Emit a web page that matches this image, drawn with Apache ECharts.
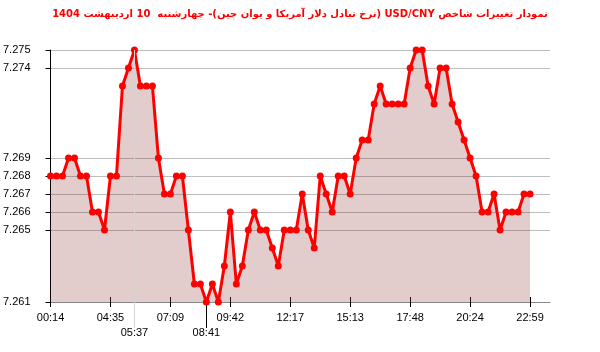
<!DOCTYPE html>
<html>
<head>
<meta charset="utf-8">
<script src="https://cdn.jsdelivr.net/npm/echarts@6/dist/echarts.min.js"></script>
<style>html,body{margin:0;padding:0;background:#fff}#c{width:600px;height:352px}</style>
</head>
<body>
<div id="c" dir="rtl"></div>
<script>
const titleText = 'نمودار تغییرات شاخص USD/CNY (نرخ تبادل دلار آمریکا و یوان چین)- چهارشنبه  10 اردیبهشت 1404';
const values = [
  7.268,7.268,7.268,7.269,7.269,7.268,7.268,7.266,7.266,7.265,
  7.268,7.268,7.273,7.274,7.275,7.273,7.273,7.273,7.269,7.267,
  7.267,7.268,7.268,7.265,7.262,7.262,7.261,7.262,7.261,7.263,
  7.266,7.262,7.263,7.265,7.266,7.265,7.265,7.264,7.263,7.265,
  7.265,7.265,7.267,7.265,7.264,7.268,7.267,7.266,7.268,7.268,
  7.267,7.269,7.270,7.270,7.272,7.273,7.272,7.272,7.272,7.272,
  7.274,7.275,7.275,7.273,7.272,7.274,7.274,7.272,7.271,7.270,
  7.269,7.268,7.266,7.266,7.267,7.265,7.266,7.266,7.266,7.267,
  7.267
];
const xTickLabels = ['00:14','04:35','07:09','09:42','12:17','15:13','17:48','20:24','22:59'];
const xTickPositions = [0,10,20,30,40,50,60,70,80];
const maxLabel = '05:37', maxIndex = 14;
const minLabel = '08:41', minIndex = 26;
const yTickLabels = [7.261,7.265,7.266,7.267,7.268,7.269,7.274,7.275];
const yMin = 7.261, yMax = 7.275, yStep = 0.001;
const xMax = 83.333;

const seriesData = values.map((v,i)=>[i,v]);
const font = 'Liberation Sans, Arial, sans-serif';

const baseX = {
  type:'value', min:0, max:xMax, position:'bottom',
  splitLine:{show:false}, axisLine:{show:false},
  axisTick:{show:false}, axisLabel:{show:false}
};
const chart = echarts.init(document.getElementById('c'), null, {renderer:'canvas'});
chart.setOption({
  animation:false,
  backgroundColor:'#fff',
  title:{
    text:titleText, left:'center', top:4,
    textStyle:{color:'#ff0000', fontSize:10, fontWeight:'bold', fontFamily:'DejaVu Sans, sans-serif'}
  },
  grid:{left:50, right:50, top:50, bottom:50, containLabel:false},
  xAxis:[
    Object.assign({}, baseX, {
      axisLine:{show:true, lineStyle:{color:'#888', width:1}},
      axisTick:{show:true, customValues:xTickPositions, length:5, lineStyle:{color:'#000'}},
      axisLabel:{show:true, customValues:xTickPositions, margin:10, color:'#000', fontSize:11, fontFamily:font,
        formatter:(v)=>{const k=xTickPositions.indexOf(Math.round(v)); return k>=0?xTickLabels[k]:'';}}
    }),
    Object.assign({}, baseX, {
      axisTick:{show:true, inside:true, customValues:xTickPositions, length:5, lineStyle:{color:'#000'}}
    }),
    Object.assign({}, baseX, {
      axisTick:{show:true, customValues:[maxIndex], length:26, lineStyle:{color:'#d4d4d4'}},
      axisLabel:{show:true, customValues:[maxIndex], margin:25, color:'#000', fontSize:11, fontFamily:font,
        formatter:()=>maxLabel}
    }),
    Object.assign({}, baseX, {
      axisTick:{show:true, customValues:[minIndex], length:26, lineStyle:{color:'#000'}},
      axisLabel:{show:true, customValues:[minIndex], margin:25, color:'#000', fontSize:11, fontFamily:font,
        formatter:()=>minLabel}
    })
  ],
  yAxis:{
    type:'value', min:yMin, max:yMax, interval:yStep,
    axisLine:{show:true, lineStyle:{color:'#000'}},
    axisTick:{show:true, customValues:yTickLabels, length:5, lineStyle:{color:'#000'}},
    axisLabel:{customValues:yTickLabels, margin:20, color:'#000', fontSize:11, fontFamily:font,
      formatter:(v)=>v.toFixed(3)},
    splitLine:{show:true, lineStyle:{color:'#bdbdbd', width:1}}
  },
  series:[{
    type:'line', xAxisIndex:0, data:seriesData,
    symbol:'circle', symbolSize:7, showAllSymbol:true,
    lineStyle:{color:'#ff0000', width:3},
    itemStyle:{color:'#ff0000'},
    areaStyle:{color:'rgba(140,40,40,0.24)', opacity:1},
    markLine:{
      silent:true, symbol:'none', label:{show:false},
      lineStyle:{color:'#d4d4d4', width:1, type:'solid'},
      data:[{xAxis:maxIndex}]
    },
    z:3
  }]
});
</script>
</body>
</html>
